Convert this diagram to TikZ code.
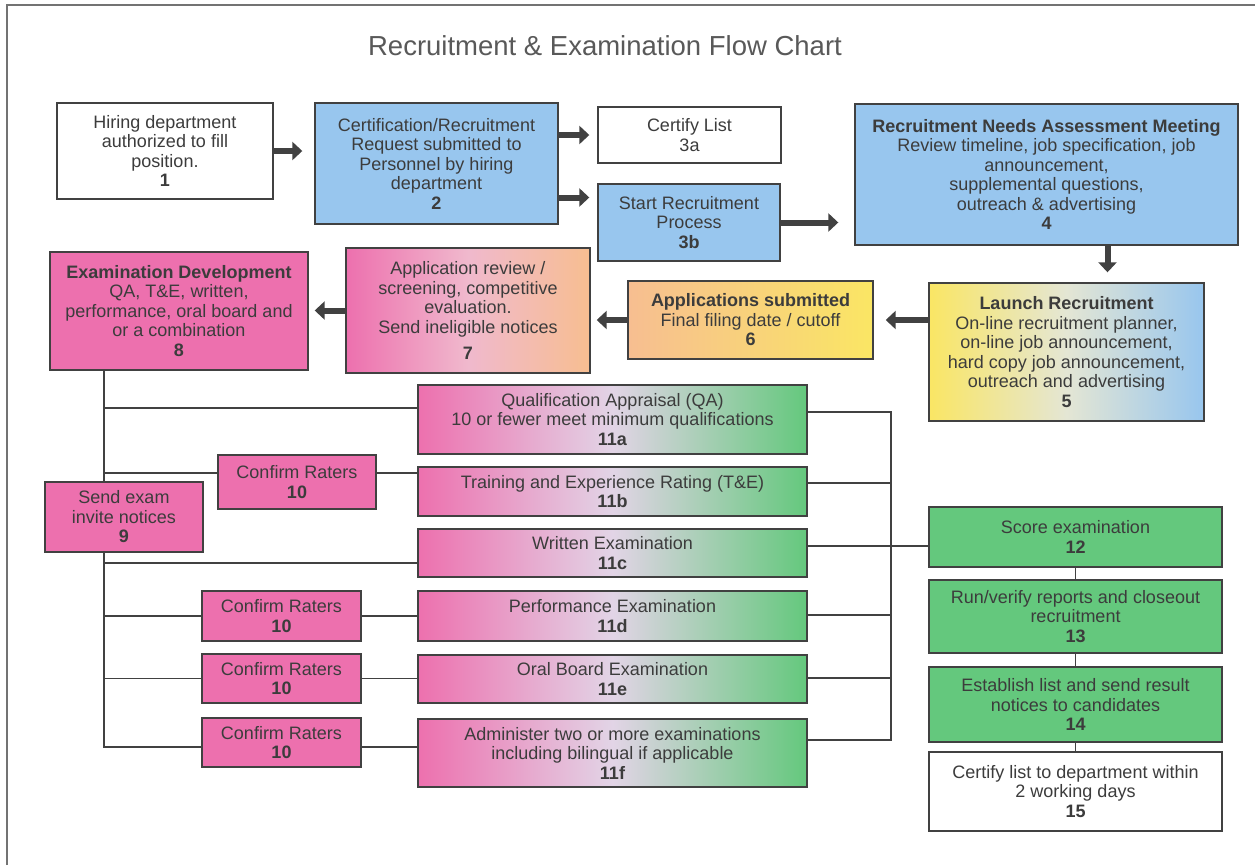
\documentclass[tikz,border=0pt]{standalone}
\usepackage{fontspec}
\setmainfont{Liberation Sans}
\usetikzlibrary{arrows.meta,fit,backgrounds,calc}
\definecolor{bpink}{RGB}{237,112,174}
\definecolor{bblue}{RGB}{152,198,238}
\definecolor{bgreen}{RGB}{100,200,125}
\definecolor{bpeach}{RGB}{247,190,145}
\definecolor{byellow}{RGB}{250,230,100}
\definecolor{mixlight}{RGB}{226,212,230}
\definecolor{mixpink}{RGB}{240,185,205}
\definecolor{mixyb}{RGB}{228,230,212}
\definecolor{bline}{RGB}{65,65,65}
\definecolor{btext}{RGB}{60,60,60}
\definecolor{bframe}{RGB}{115,115,115}
\tikzset{
  box/.style={draw=bline, line width=1.4pt, inner sep=0pt},
  txt/.style={align=center, inner sep=0pt, text=btext, font=\fontsize{18}{19.5}\selectfont},
  whitebox/.style={box, fill=white},
  bluebox/.style={box, fill=bblue},
  pinkbox/.style={box, fill=bpink},
  greenbox/.style={box, fill=bgreen},
  examgrad/.style={box, left color=bpink, right color=bgreen, middle color=mixlight},
  launchgrad/.style={box, left color=byellow, right color=bblue, middle color=mixyb},
  appgrad/.style={box, left color=bpeach, right color=byellow, middle color=bpeach!50!byellow},
  reviewgrad/.style={box, left color=bpink, right color=bpeach, middle color=mixpink},
  bigarrow/.style={draw=bline, line width=6pt, -{Triangle[length=10pt,width=18pt]}},
  conn/.style={draw=bline, line width=1.2pt},
  titletext/.style={text=btext!85!white, font=\fontsize{27.5}{30}\selectfont}
}
% box with text: style, name, corners, text
\newcommand{\bx}[4]{%
  \node[#1, fit={#3}] (#2) {};
  \node[txt] (#2t) at (#2.center) {#4};}
\begin{document}
\begin{tikzpicture}[x=1pt,y=-1pt]
\useasboundingbox (0,0) rectangle (1255,865);
% frame
\draw[bframe, line width=2pt] (7,865) -- (7,5) -- (1255,5);
\node[titletext] (title) at (605,46) {Recruitment \& Examination Flow Chart};

% top row
\bx{whitebox}{n1}{(57,103) (273,199)}{Hiring department\\authorized to fill\\position.\\\textbf{1}}
\bx{bluebox}{n2}{(315,103) (558,224)}{Certification/Recruitment\\Request submitted to\\Personnel by hiring\\department\\\textbf{2}}
\bx{whitebox}{n3a}{(598,107) (781,163)}{Certify List\\3a}
\bx{bluebox}{n3b}{(598,184) (780,261)}{Start Recruitment\\Process\\\textbf{3b}}
\bx{bluebox}{n4}{(855,104) (1238,245)}{\textbf{Recruitment Needs Assessment Meeting}\\Review timeline, job specification, job\\announcement,\\supplemental questions,\\outreach \& advertising\\\textbf{4}}

% second row
\bx{launchgrad}{n5}{(929,283) (1204,421)}{\textbf{Launch Recruitment}\\On-line recruitment planner,\\on-line job announcement,\\hard copy job announcement,\\outreach and advertising\\\textbf{5}}
\bx{appgrad}{n6}{(628,281) (873,359)}{\textbf{Applications submitted}\\Final filing date / cutoff\\\textbf{6}}
\bx{reviewgrad}{n7}{(346,248) (590,373)}{Application review /\\screening, competitive\\evaluation.\\Send ineligible notices\\[7pt]\textbf{7}}
\bx{pinkbox}{n8}{(50,252) (308,370)}{\textbf{Examination Development}\\QA, T\&E, written,\\performance, oral board and\\or a combination\\\textbf{8}}

% left column
\bx{pinkbox}{n9}{(45,482) (203,552)}{Send exam\\invite notices\\\textbf{9}}
\bx{pinkbox}{n10a}{(218,455) (376,509)}{Confirm Raters\\\textbf{10}}
\bx{pinkbox}{n10b}{(202,591) (361,641)}{Confirm Raters\\\textbf{10}}
\bx{pinkbox}{n10c}{(202,654) (361,703)}{Confirm Raters\\\textbf{10}}
\bx{pinkbox}{n10d}{(202,718) (361,767)}{Confirm Raters\\\textbf{10}}

% exams
\bx{examgrad}{n11a}{(418,385) (807,454)}{Qualification Appraisal (QA)\\10 or fewer meet minimum qualifications\\\textbf{11a}}
\bx{examgrad}{n11b}{(418,467) (807,516)}{Training and Experience Rating (T\&E)\\\textbf{11b}}
\bx{examgrad}{n11c}{(418,529) (807,577)}{Written Examination\\\textbf{11c}}
\bx{examgrad}{n11d}{(418,591) (807,641)}{Performance Examination\\\textbf{11d}}
\bx{examgrad}{n11e}{(418,655) (807,703)}{Oral Board Examination\\\textbf{11e}}
\bx{examgrad}{n11f}{(418,719) (807,787)}{Administer two or more examinations\\including bilingual if applicable\\\textbf{11f}}

% right column
\bx{greenbox}{n12}{(929,507) (1222,567)}{Score examination\\\textbf{12}}
\bx{greenbox}{n13}{(929,580) (1222,653)}{Run/verify reports and closeout\\recruitment\\\textbf{13}}
\bx{greenbox}{n14}{(929,667) (1222,742)}{Establish list and send result\\notices to candidates\\\textbf{14}}
\bx{whitebox}{n15}{(929,752) (1222,831)}{Certify list to department within\\2 working days\\\textbf{15}}

% helper coordinates
\coordinate (tl) at (104,0);
\coordinate (tr) at (891,0);
\coordinate (y1) at (0,408);
\coordinate (y2) at (0,473);
\coordinate (y3) at (0,563);
\coordinate (y6) at (0,747);
\coordinate (r1) at (0,412);
\coordinate (r2) at (0,483);
\coordinate (r3) at (0,546);
\coordinate (r4) at (0,615);
\coordinate (r5) at (0,678);
\coordinate (r6) at (0,740);

\begin{scope}[on background layer]
\fill[white] (0,0) rectangle (1255,865);
% left tree
\draw[conn] (n8.south -| tl) -- (tl |- y6) -- (n10d.west |- y6);
\draw[conn] (tl |- y1) -- (n11a.west |- y1);
\draw[conn] (tl |- y2) -- (n10a.west |- y2);
\draw[conn] (n10a.east |- y2) -- (n11b.west |- y2);
\draw[conn] (tl |- y3) -- (n11c.west |- y3);
\draw[conn] (tl |- n10b.west) -- (n10b.west);
\draw[conn] (n10b.east) -- (n11d.west |- n10b.east);
\draw[conn] (tl |- n10c.west) -- (n10c.west);
\draw[conn] (n10c.east) -- (n11e.west |- n10c.east);
\draw[conn] (n10d.east |- y6) -- (n11f.west |- y6);
% right tree
\draw[conn] (n11a.east |- r1) -- (tr |- r1) -- (tr |- r6) -- (n11f.east |- r6);
\draw[conn] (n11b.east |- r2) -- (tr |- r2);
\draw[conn] (n11c.east |- r3) -- (n12.west |- r3);
\draw[conn] (n11d.east |- r4) -- (tr |- r4);
\draw[conn] (n11e.east |- r5) -- (tr |- r5);
% right column
\draw[conn] (n12.south) -- (n13.north);
\draw[conn] (n13.south) -- (n14.north);
\draw[conn] (n14.south) -- (n15.north);
\end{scope}

% block arrows
\draw[bigarrow, shorten >=12pt] (n1.east) -- (n1.east -| n2.west);
\draw[bigarrow, shorten >=8pt] (n3a.west -| n2.east) -- (n3a.west);
\path ([yshift=25pt]n3b.west) coordinate (p3b);
\draw[bigarrow, shorten >=8pt] (p3b -| n2.east) -- (p3b);
\draw[bigarrow, shorten >=16pt] (n3b.east) -- (n3b.east -| n4.west);
\path ([xshift=61pt]n4.south) coordinate (p45);
\draw[bigarrow, shorten >=10pt] (p45) -- (p45 |- n5.north);
\draw[bigarrow, shorten >=12pt] (n6.east -| n5.west) -- (n6.east);
\draw[bigarrow, shorten >=6pt] (n6.west) -- (n6.west -| n7.east);
\draw[bigarrow, shorten >=6pt] (n7.west) -- (n7.west -| n8.east);
\end{tikzpicture}
\end{document}
